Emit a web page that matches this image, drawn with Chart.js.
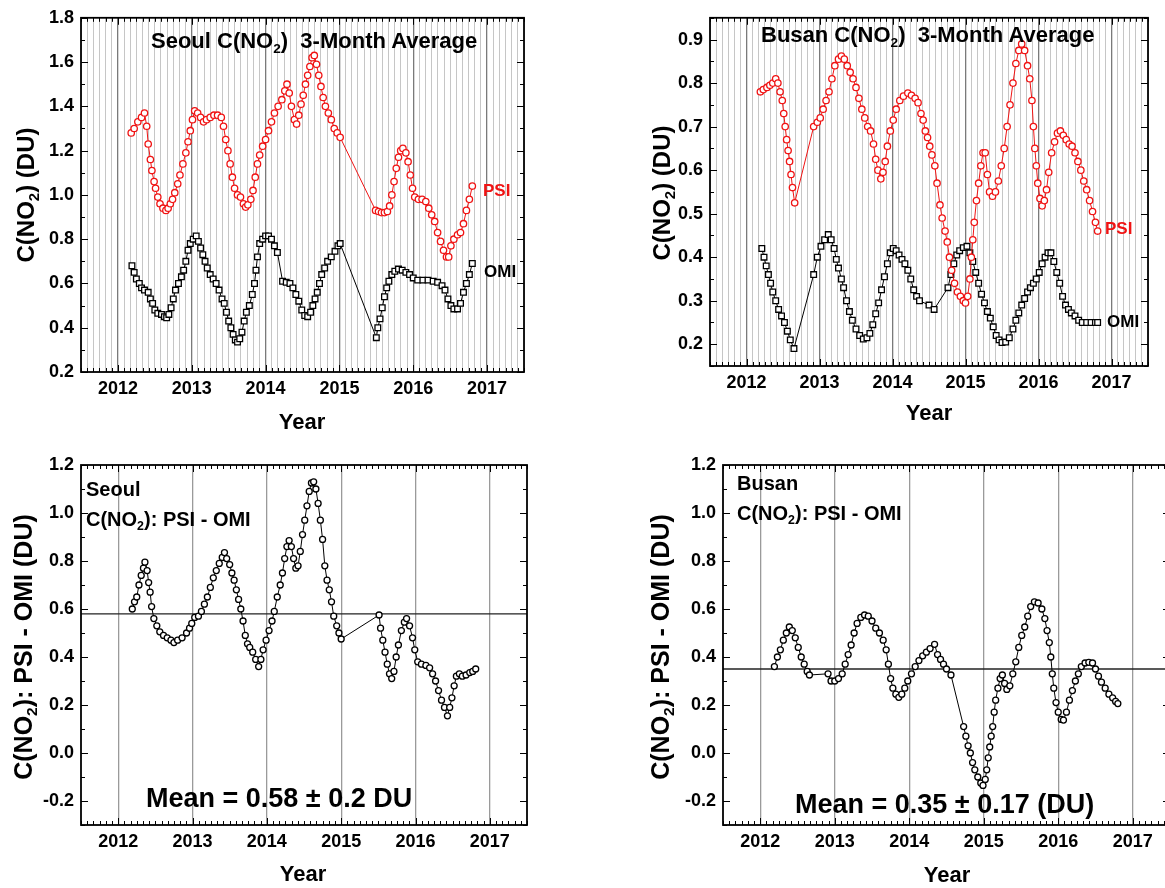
<!DOCTYPE html>
<html>
<head>
<meta charset="utf-8">
<script src="https://cdn.jsdelivr.net/npm/chart.js@4"></script>
<style>
html, body { margin: 0; padding: 0; overflow: hidden; background: #fff; }
body { width: 1165px; height: 888px; position: relative; font-family: "Liberation Sans", Arial, sans-serif; font-weight: bold; color: #000; }
canvas { position: absolute; }
.t { position: absolute; white-space: nowrap; transform: translateY(-50%); line-height: 1; }
.c { position: absolute; white-space: nowrap; transform: translate(-50%, -50%); line-height: 1; }
.r { position: absolute; white-space: nowrap; transform: translate(-50%, -50%) rotate(-90deg); line-height: 1; }
sub { font-size: 62%; vertical-align: -0.35em; line-height: 0; }
.red { color: #f01414; }
</style>
</head>
<body>
<canvas id="c1" width="582" height="440" style="left:0;top:0"></canvas>
<canvas id="c2" width="583" height="440" style="left:582px;top:0"></canvas>
<canvas id="c3" width="582" height="448" style="left:0;top:440px"></canvas>
<canvas id="c4" width="600" height="448" style="left:582px;top:440px"></canvas>

<div class="t" style="left:151px;top:41px;font-size:22px">Seoul C(NO<sub>2</sub>)&nbsp; 3-Month Average</div>
<div class="t" style="left:761px;top:35px;font-size:22px">Busan C(NO<sub>2</sub>)&nbsp; 3-Month Average</div>
<div class="t red" style="left:483px;top:190px;font-size:17px">PSI</div>
<div class="t" style="left:484px;top:271px;font-size:17px">OMI</div>
<div class="t red" style="left:1105px;top:228px;font-size:17px">PSI</div>
<div class="t" style="left:1107px;top:321px;font-size:17px">OMI</div>

<div class="r" style="left:26px;top:195px;font-size:24px">C(NO<sub>2</sub>) (DU)</div>
<div class="r" style="left:662px;top:193px;font-size:24px">C(NO<sub>2</sub>) (DU)</div>
<div class="r" style="left:23px;top:647px;font-size:25px">C(NO<sub>2</sub>): PSI - OMI (DU)</div>
<div class="r" style="left:660px;top:647px;font-size:25px">C(NO<sub>2</sub>): PSI - OMI (DU)</div>

<div class="c" style="left:302px;top:422px;font-size:22px">Year</div>
<div class="c" style="left:929px;top:413px;font-size:22px">Year</div>
<div class="c" style="left:303px;top:874px;font-size:22px">Year</div>
<div class="c" style="left:947px;top:875px;font-size:22px">Year</div>

<div class="t" style="left:86px;top:489px;font-size:20px">Seoul</div>
<div class="t" style="left:86px;top:519px;font-size:20px">C(NO<sub>2</sub>): PSI - OMI</div>
<div class="t" style="left:737px;top:483px;font-size:20px">Busan</div>
<div class="t" style="left:737px;top:513px;font-size:20px">C(NO<sub>2</sub>): PSI - OMI</div>

<div class="t" style="left:146px;top:798px;font-size:27px">Mean = 0.58 &plusmn; 0.2 DU</div>
<div class="t" style="left:795px;top:804px;font-size:27px">Mean = 0.35 &plusmn; 0.17 (DU)</div>

<script>
// axis labels
var yearLabels = [2012, 2013, 2014, 2015, 2016, 2017];
var seoulTicks = [0.2, 0.4, 0.6, 0.8, 1.0, 1.2, 1.4, 1.6, 1.8];
var busanTicks = [0.2, 0.3, 0.4, 0.5, 0.6, 0.7, 0.8, 0.9];
var diffTicks = [-0.2, 0.0, 0.2, 0.4, 0.6, 0.8, 1.0, 1.2];

var seoulMean = 0.58;
var busanMean = 0.35;

// [year, C(NO2) in DU]
var seoulPsi = [
  [2012.18,1.28],[2012.22,1.30],[2012.27,1.33],[2012.32,1.35],[2012.36,1.37],[2012.39,1.31],[2012.41,1.23],[2012.44,1.16],
  [2012.46,1.11],[2012.49,1.06],[2012.51,1.03],[2012.54,0.99],[2012.57,0.96],[2012.61,0.94],[2012.65,0.93],[2012.68,0.94],
  [2012.71,0.96],[2012.74,0.98],[2012.77,1.01],[2012.81,1.05],[2012.84,1.09],[2012.88,1.14],[2012.92,1.19],[2012.95,1.24],
  [2012.98,1.29],[2013.01,1.34],[2013.04,1.38],[2013.08,1.37],[2013.12,1.35],[2013.16,1.33],[2013.2,1.34],[2013.25,1.35],
  [2013.3,1.36],[2013.35,1.36],[2013.4,1.35],[2013.43,1.31],[2013.46,1.25],[2013.49,1.20],[2013.52,1.14],[2013.55,1.08],
  [2013.58,1.03],[2013.62,1.00],[2013.66,0.99],[2013.7,0.96],[2013.73,0.945],[2013.76,0.955],[2013.8,0.98],[2013.83,1.02],
  [2013.86,1.08],[2013.89,1.14],[2013.92,1.18],[2013.96,1.22],[2014.0,1.25],[2014.04,1.29],[2014.08,1.33],[2014.12,1.37],
  [2014.17,1.40],[2014.22,1.43],[2014.26,1.47],[2014.29,1.50],[2014.32,1.46],[2014.35,1.40],[2014.39,1.34],[2014.42,1.32],
  [2014.45,1.36],[2014.48,1.41],[2014.51,1.45],[2014.54,1.50],[2014.57,1.54],[2014.6,1.58],[2014.63,1.62],[2014.66,1.63],
  [2014.69,1.59],[2014.72,1.54],[2014.75,1.49],[2014.78,1.44],[2014.81,1.40],[2014.85,1.37],[2014.89,1.34],[2014.93,1.30],
  [2014.97,1.28],[2015.01,1.26],
  [2015.49,0.93],[2015.53,0.925],[2015.57,0.92],[2015.61,0.92],[2015.65,0.925],[2015.68,0.95],[2015.71,1.00],[2015.74,1.06],
  [2015.77,1.12],[2015.8,1.17],[2015.83,1.20],[2015.86,1.21],[2015.9,1.19],[2015.93,1.15],[2015.96,1.09],[2015.99,1.03],
  [2016.02,0.99],[2016.07,0.98],[2016.12,0.98],[2016.17,0.97],[2016.21,0.94],[2016.25,0.91],[2016.29,0.88],[2016.33,0.83],
  [2016.37,0.79],[2016.41,0.75],[2016.45,0.72],[2016.48,0.72],[2016.51,0.77],[2016.55,0.80],[2016.6,0.82],[2016.64,0.83],
  [2016.68,0.87],[2016.72,0.93],[2016.76,0.98],[2016.8,1.04]
];

var seoulOmi = [
  [2012.19,0.68],[2012.22,0.65],[2012.25,0.62],[2012.29,0.60],[2012.32,0.58],[2012.36,0.57],[2012.41,0.56],[2012.44,0.53],
  [2012.47,0.51],[2012.5,0.48],[2012.54,0.465],[2012.59,0.46],[2012.63,0.45],[2012.66,0.445],[2012.69,0.46],[2012.72,0.49],
  [2012.75,0.53],[2012.78,0.57],[2012.82,0.60],[2012.86,0.63],[2012.89,0.66],[2012.92,0.70],[2012.95,0.75],[2012.98,0.78],
  [2013.02,0.80],[2013.06,0.815],[2013.09,0.79],[2013.12,0.76],[2013.15,0.73],[2013.18,0.70],[2013.21,0.67],[2013.25,0.64],
  [2013.29,0.62],[2013.33,0.60],[2013.37,0.57],[2013.41,0.53],[2013.44,0.51],[2013.47,0.47],[2013.5,0.43],[2013.53,0.40],
  [2013.56,0.37],[2013.59,0.345],[2013.62,0.335],[2013.65,0.35],[2013.68,0.38],[2013.71,0.43],[2013.74,0.47],[2013.78,0.50],
  [2013.82,0.55],[2013.85,0.60],[2013.87,0.66],[2013.89,0.72],[2013.92,0.78],[2013.96,0.80],[2014.0,0.815],[2014.04,0.815],
  [2014.08,0.80],[2014.12,0.77],[2014.16,0.74],[2014.23,0.61],[2014.28,0.605],[2014.33,0.60],[2014.37,0.58],[2014.41,0.55],
  [2014.45,0.52],[2014.49,0.48],[2014.53,0.455],[2014.57,0.45],[2014.61,0.47],[2014.64,0.50],[2014.67,0.53],[2014.7,0.56],
  [2014.73,0.60],[2014.76,0.64],[2014.8,0.67],[2014.84,0.70],[2014.89,0.72],[2014.94,0.745],[2014.98,0.77],[2015.01,0.78],
  [2015.5,0.355],[2015.52,0.40],[2015.55,0.44],[2015.58,0.49],[2015.61,0.54],[2015.64,0.58],[2015.67,0.61],[2015.71,0.64],
  [2015.75,0.655],[2015.8,0.665],[2015.85,0.66],[2015.9,0.65],[2015.95,0.64],[2016.0,0.625],[2016.06,0.615],[2016.13,0.615],
  [2016.2,0.615],[2016.27,0.61],[2016.33,0.605],[2016.39,0.59],[2016.43,0.57],[2016.47,0.53],[2016.51,0.50],[2016.55,0.485],
  [2016.6,0.485],[2016.64,0.51],[2016.68,0.56],[2016.72,0.60],[2016.76,0.64],[2016.8,0.69]
];

var busanPsi = [
  [2012.19,0.78],[2012.23,0.785],[2012.28,0.79],[2012.32,0.795],[2012.36,0.80],[2012.4,0.81],[2012.43,0.80],[2012.46,0.78],
  [2012.49,0.76],[2012.51,0.73],[2012.53,0.70],[2012.55,0.67],[2012.57,0.645],[2012.59,0.62],[2012.61,0.59],[2012.63,0.56],
  [2012.66,0.525],
  [2012.92,0.70],[2012.97,0.71],[2013.01,0.72],[2013.05,0.74],[2013.09,0.76],[2013.13,0.78],[2013.17,0.81],[2013.21,0.84],
  [2013.26,0.855],[2013.3,0.862],[2013.34,0.855],[2013.38,0.84],[2013.42,0.825],[2013.46,0.81],[2013.5,0.79],[2013.54,0.765],
  [2013.58,0.74],[2013.62,0.72],[2013.66,0.70],[2013.7,0.69],[2013.74,0.66],[2013.77,0.625],[2013.8,0.60],[2013.84,0.58],
  [2013.87,0.595],[2013.9,0.62],[2013.93,0.655],[2013.97,0.69],[2014.01,0.715],[2014.05,0.74],[2014.1,0.76],[2014.15,0.77],
  [2014.21,0.777],[2014.26,0.772],[2014.31,0.765],[2014.35,0.755],[2014.39,0.73],[2014.42,0.715],[2014.45,0.69],[2014.48,0.675],
  [2014.51,0.655],[2014.54,0.635],[2014.58,0.61],[2014.61,0.57],[2014.65,0.52],[2014.68,0.49],[2014.72,0.46],[2014.75,0.435],
  [2014.78,0.40],[2014.81,0.37],[2014.85,0.34],[2014.89,0.32],[2014.93,0.31],[2014.97,0.30],[2015.0,0.295],[2015.03,0.31],
  [2015.06,0.35],[2015.08,0.40],[2015.1,0.44],[2015.12,0.48],[2015.15,0.53],[2015.18,0.57],[2015.21,0.61],[2015.24,0.64],
  [2015.27,0.64],[2015.3,0.59],[2015.33,0.55],[2015.37,0.54],[2015.41,0.55],[2015.45,0.575],[2015.49,0.61],[2015.53,0.65],
  [2015.57,0.70],[2015.61,0.75],[2015.65,0.80],[2015.69,0.845],[2015.73,0.875],[2015.77,0.89],[2015.81,0.875],[2015.85,0.84],
  [2015.88,0.81],[2015.91,0.76],[2015.93,0.70],[2015.95,0.65],[2015.97,0.61],[2015.99,0.57],[2016.02,0.535],[2016.05,0.518],
  [2016.08,0.53],[2016.11,0.555],[2016.14,0.595],[2016.18,0.64],[2016.22,0.665],[2016.26,0.685],[2016.3,0.69],[2016.34,0.68],
  [2016.38,0.67],[2016.42,0.66],[2016.46,0.655],[2016.5,0.64],[2016.54,0.62],[2016.58,0.60],[2016.62,0.575],[2016.66,0.555],
  [2016.7,0.53],[2016.74,0.505],[2016.78,0.48],[2016.81,0.46]
];

var busanOmi = [
  [2012.21,0.42],[2012.24,0.40],[2012.27,0.38],[2012.3,0.36],[2012.33,0.34],[2012.36,0.32],[2012.4,0.30],[2012.44,0.28],
  [2012.48,0.265],[2012.52,0.25],[2012.56,0.23],[2012.6,0.21],[2012.65,0.19],
  [2012.92,0.36],[2012.97,0.40],[2013.02,0.425],[2013.07,0.44],[2013.12,0.452],[2013.16,0.44],[2013.2,0.42],[2013.23,0.395],
  [2013.26,0.375],[2013.3,0.35],[2013.33,0.33],[2013.37,0.30],[2013.41,0.275],[2013.45,0.255],[2013.5,0.235],[2013.55,0.22],
  [2013.6,0.212],[2013.65,0.215],[2013.69,0.225],[2013.73,0.245],[2013.77,0.27],[2013.81,0.295],[2013.85,0.325],[2013.89,0.355],
  [2013.93,0.385],[2013.97,0.41],[2014.01,0.42],[2014.05,0.415],[2014.09,0.405],[2014.13,0.395],[2014.17,0.385],[2014.21,0.37],
  [2014.25,0.35],[2014.29,0.325],[2014.33,0.31],[2014.37,0.30],[2014.5,0.29],[2014.57,0.28],
  [2014.76,0.33],[2014.8,0.36],[2014.84,0.385],[2014.88,0.405],[2014.92,0.415],[2014.97,0.422],[2015.02,0.425],[2015.06,0.41],
  [2015.1,0.39],[2015.14,0.365],[2015.18,0.34],[2015.22,0.315],[2015.26,0.295],[2015.3,0.275],[2015.34,0.26],[2015.38,0.24],
  [2015.42,0.22],[2015.46,0.21],[2015.5,0.204],[2015.55,0.205],[2015.6,0.215],[2015.65,0.235],[2015.69,0.255],[2015.73,0.272],
  [2015.77,0.29],[2015.81,0.305],[2015.85,0.32],[2015.89,0.33],[2015.93,0.34],[2015.97,0.35],[2016.01,0.365],[2016.05,0.385],
  [2016.09,0.40],[2016.13,0.41],[2016.17,0.41],[2016.21,0.39],[2016.25,0.365],[2016.29,0.34],[2016.33,0.31],[2016.37,0.29],
  [2016.41,0.28],[2016.45,0.272],[2016.5,0.265],[2016.55,0.255],[2016.6,0.25],[2016.66,0.25],[2016.72,0.25],[2016.78,0.25],
  [2016.81,0.25]
];

var seoulDiff = [
  [2012.19,0.60],[2012.22,0.63],[2012.25,0.65],[2012.28,0.70],[2012.31,0.74],[2012.34,0.77],[2012.36,0.795],[2012.39,0.76],
  [2012.41,0.71],[2012.43,0.67],[2012.45,0.61],[2012.48,0.56],[2012.52,0.53],[2012.56,0.505],[2012.61,0.49],[2012.66,0.48],
  [2012.71,0.47],[2012.75,0.46],[2012.8,0.47],[2012.86,0.48],[2012.92,0.50],[2012.96,0.52],[2012.99,0.54],[2013.03,0.565],
  [2013.08,0.57],[2013.12,0.59],[2013.16,0.62],[2013.2,0.65],[2013.24,0.69],[2013.28,0.73],[2013.32,0.76],[2013.36,0.79],
  [2013.4,0.815],[2013.43,0.835],[2013.46,0.81],[2013.5,0.785],[2013.53,0.75],[2013.56,0.72],[2013.59,0.68],[2013.62,0.64],
  [2013.65,0.60],[2013.68,0.55],[2013.71,0.49],[2013.74,0.455],[2013.77,0.44],[2013.81,0.42],[2013.85,0.39],[2013.89,0.36],
  [2013.92,0.39],[2013.95,0.43],[2013.99,0.47],[2014.03,0.51],[2014.07,0.55],[2014.1,0.59],[2014.14,0.65],[2014.18,0.70],
  [2014.21,0.75],[2014.24,0.81],[2014.27,0.86],[2014.3,0.885],[2014.33,0.86],[2014.36,0.81],[2014.39,0.77],[2014.42,0.78],
  [2014.45,0.84],[2014.48,0.91],[2014.51,0.97],[2014.54,1.03],[2014.57,1.09],[2014.6,1.125],[2014.63,1.13],[2014.66,1.10],
  [2014.69,1.04],[2014.72,0.97],[2014.75,0.89],[2014.78,0.78],[2014.81,0.72],[2014.84,0.68],[2014.87,0.63],[2014.9,0.57],
  [2014.94,0.53],[2014.97,0.50],[2015.0,0.475],
  [2015.51,0.575],[2015.53,0.52],[2015.56,0.47],[2015.59,0.42],[2015.62,0.37],[2015.65,0.33],[2015.68,0.31],[2015.71,0.34],
  [2015.74,0.40],[2015.77,0.45],[2015.81,0.51],[2015.85,0.545],[2015.88,0.56],[2015.92,0.53],[2015.96,0.48],[2015.99,0.43],
  [2016.03,0.38],[2016.08,0.37],[2016.14,0.365],[2016.19,0.355],[2016.23,0.33],[2016.27,0.30],[2016.31,0.26],[2016.35,0.22],
  [2016.39,0.19],[2016.43,0.155],[2016.46,0.19],[2016.49,0.23],[2016.52,0.28],[2016.55,0.32],[2016.59,0.33],[2016.63,0.32],
  [2016.68,0.325],[2016.73,0.335],[2016.77,0.34],[2016.81,0.35]
];

var busanDiff = [
  [2012.19,0.36],[2012.23,0.40],[2012.27,0.43],[2012.31,0.47],[2012.35,0.50],[2012.39,0.525],[2012.43,0.51],[2012.47,0.48],
  [2012.51,0.44],[2012.55,0.40],[2012.59,0.37],[2012.63,0.34],[2012.66,0.325],
  [2012.91,0.33],[2012.95,0.30],[2013.0,0.30],[2013.05,0.31],[2013.1,0.33],[2013.14,0.37],[2013.18,0.41],[2013.22,0.45],
  [2013.26,0.50],[2013.3,0.54],[2013.35,0.565],[2013.4,0.575],[2013.45,0.57],[2013.5,0.55],[2013.55,0.52],[2013.6,0.50],
  [2013.65,0.47],[2013.69,0.43],[2013.72,0.37],[2013.75,0.31],[2013.78,0.27],[2013.82,0.245],[2013.86,0.232],[2013.9,0.245],
  [2013.94,0.27],[2013.98,0.30],[2014.03,0.33],[2014.08,0.36],[2014.13,0.385],[2014.18,0.405],[2014.23,0.42],[2014.28,0.435],
  [2014.34,0.453],[2014.38,0.41],[2014.42,0.39],[2014.46,0.37],[2014.5,0.35],[2014.56,0.325],
  [2014.73,0.11],[2014.76,0.07],[2014.79,0.03],[2014.82,0.0],[2014.85,-0.04],[2014.88,-0.07],[2014.92,-0.10],[2014.96,-0.125],
  [2014.99,-0.135],[2015.02,-0.11],[2015.04,-0.07],[2015.06,-0.02],[2015.08,0.025],[2015.1,0.07],[2015.12,0.11],[2015.14,0.17],
  [2015.16,0.22],[2015.19,0.27],[2015.22,0.31],[2015.25,0.325],[2015.28,0.29],[2015.31,0.265],[2015.35,0.28],[2015.39,0.33],
  [2015.43,0.38],[2015.47,0.44],[2015.51,0.49],[2015.55,0.525],[2015.59,0.57],[2015.63,0.61],[2015.68,0.63],[2015.73,0.625],
  [2015.78,0.60],[2015.82,0.56],[2015.85,0.51],[2015.88,0.46],[2015.9,0.40],[2015.92,0.33],[2015.94,0.27],[2015.97,0.21],
  [2016.0,0.17],[2016.04,0.14],[2016.07,0.137],[2016.11,0.17],[2016.15,0.22],[2016.19,0.26],[2016.23,0.30],[2016.27,0.33],
  [2016.31,0.36],[2016.36,0.375],[2016.41,0.378],[2016.46,0.375],[2016.5,0.35],[2016.54,0.32],[2016.58,0.295],[2016.63,0.27],
  [2016.68,0.245],[2016.73,0.23],[2016.77,0.215],[2016.8,0.206]
];

var X_MIN = 2011.5, X_MAX = 2017.5;
var FONT = { family: "'Liberation Sans', Arial, sans-serif", size: 18, weight: 'bold' };

function isYear(v) {
  return Math.abs(v - Math.round(v)) < 1e-6;
}

// inward ticks on all four sides plus the black box
var framePlugin = {
  id: 'frame',
  afterDraw: function(chart, args, opts) {
    var ctx = chart.ctx, a = chart.chartArea, xs = chart.scales.x, ys = chart.scales.y;
    ctx.save();
    ctx.strokeStyle = '#000';
    ctx.lineWidth = 1;
    ctx.beginPath();
    var nx = Math.round((X_MAX - X_MIN) * 12);
    for (var k = 0; k <= nx; k++) {
      var v = X_MIN + k / 12;
      var px = Math.round(xs.getPixelForValue(v)) + 0.5;
      var len = isYear(v) ? 7 : 4;
      ctx.moveTo(px, a.bottom); ctx.lineTo(px, a.bottom - len);
      ctx.moveTo(px, a.top); ctx.lineTo(px, a.top + len);
    }
    var start = Math.ceil(ys.min / opts.yMinor - 1e-6);
    var end = Math.floor(ys.max / opts.yMinor + 1e-6);
    for (var j = start; j <= end; j++) {
      var yv = j * opts.yMinor;
      var r = yv / opts.yMajor;
      var major = Math.abs(r - Math.round(r)) < 1e-6;
      var py = Math.round(ys.getPixelForValue(yv)) + 0.5;
      var l2 = major ? 7 : 4;
      ctx.moveTo(a.left, py); ctx.lineTo(a.left + l2, py);
      ctx.moveTo(a.right, py); ctx.lineTo(a.right - l2, py);
    }
    ctx.stroke();
    ctx.lineWidth = 1.8;
    ctx.strokeRect(a.left, a.top, a.right - a.left, a.bottom - a.top);
    ctx.restore();
  }
};

function series(arr, color, style, r) {
  return {
    data: arr.map(function(p) { return { x: p[0], y: p[1] }; }),
    borderColor: color,
    borderWidth: 1,
    pointStyle: style,
    pointRadius: r,
    pointBorderColor: color,
    pointBackgroundColor: '#fff',
    pointBorderWidth: 1.3,
    tension: 0
  };
}

function meanLine(m) {
  return {
    data: [{ x: X_MIN, y: m }, { x: X_MAX, y: m }],
    borderColor: '#222',
    borderWidth: 1.3,
    pointRadius: 0,
    tension: 0
  };
}

function makeChart(id, cfg) {
  return new Chart(document.getElementById(id), {
    type: 'line',
    data: { datasets: cfg.datasets },
    options: {
      responsive: false,
      animation: false,
      layout: { padding: { top: cfg.top, right: cfg.right, left: 0, bottom: 0 } },
      plugins: { legend: { display: false }, tooltip: { enabled: false }, frame: { yMinor: cfg.yMinor, yMajor: cfg.yMajor } },
      scales: {
        x: {
          type: 'linear',
          min: X_MIN,
          max: X_MAX,
          afterBuildTicks: function(s) {
            var t = [];
            var n = Math.round((X_MAX - X_MIN) * 12);
            for (var k = 0; k <= n; k++) t.push({ value: X_MIN + k / 12 });
            s.ticks = t;
          },
          afterFit: function(s) { s.height = cfg.xHeight; },
          ticks: {
            autoSkip: false, maxRotation: 0, minRotation: 0, padding: 6, color: '#000', font: FONT,
            callback: function(v) {
              return isYear(v) && yearLabels.indexOf(Math.round(v)) >= 0 ? String(Math.round(v)) : '';
            }
          },
          grid: {
            drawTicks: false,
            color: function(c) {
              if (!c.tick) return 'rgba(0,0,0,0)';
              if (isYear(c.tick.value)) return cfg.yearGrid;
              return cfg.monthGrid;
            },
            lineWidth: function(c) { return c.tick && isYear(c.tick.value) ? 1.3 : 1; }
          },
          border: { display: false }
        },
        y: {
          min: cfg.yMin,
          max: cfg.yMax,
          afterBuildTicks: function(s) { s.ticks = cfg.yTicks.map(function(v) { return { value: v }; }); },
          afterFit: function(s) { s.width = cfg.yWidth; },
          ticks: { padding: 7, color: '#000', font: FONT, callback: function(v) { return v.toFixed(1); } },
          grid: { display: false, drawTicks: false },
          border: { display: false }
        }
      }
    },
    plugins: [framePlugin]
  });
}

var RED = '#f01414';

makeChart('c1', {
  datasets: [series(seoulPsi, RED, 'circle', 3.2), series(seoulOmi, '#000', 'rect', 4)],
  yMin: 0.2, yMax: 1.8, yTicks: seoulTicks, yMinor: 0.1, yMajor: 0.2,
  top: 16, right: 58, yWidth: 81, xHeight: 68,
  yearGrid: '#7a7a7a', monthGrid: '#c6c6c6'
});

makeChart('c2', {
  datasets: [series(busanPsi, RED, 'circle', 3.2), series(busanOmi, '#000', 'rect', 4)],
  yMin: 0.15, yMax: 0.95, yTicks: busanTicks, yMinor: 0.05, yMajor: 0.1,
  top: 14, right: 17, yWidth: 128, xHeight: 74,
  yearGrid: '#7a7a7a', monthGrid: '#c6c6c6'
});

makeChart('c3', {
  datasets: [series(seoulDiff, '#000', 'circle', 3), meanLine(seoulMean)],
  yMin: -0.3, yMax: 1.2, yTicks: diffTicks, yMinor: 0.1, yMajor: 0.2,
  top: 25, right: 55, yWidth: 81, xHeight: 63,
  yearGrid: '#9a9a9a', monthGrid: 'rgba(0,0,0,0)'
});

makeChart('c4', {
  datasets: [series(busanDiff, '#000', 'circle', 3), meanLine(busanMean)],
  yMin: -0.3, yMax: 1.2, yTicks: diffTicks, yMinor: 0.1, yMajor: 0.2,
  top: 25, right: 12, yWidth: 141, xHeight: 63,
  yearGrid: '#9a9a9a', monthGrid: 'rgba(0,0,0,0)'
});
</script>
</body>
</html>
